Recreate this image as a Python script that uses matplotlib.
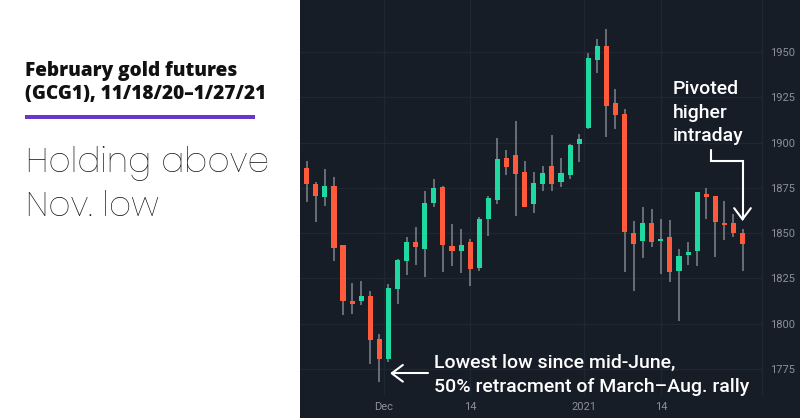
import matplotlib
matplotlib.use("Agg")
import matplotlib.pyplot as plt
from matplotlib.patches import Rectangle, FancyArrowPatch
from matplotlib.path import Path
from matplotlib.transforms import Affine2D

# ---------------- data ----------------
dates = ["2020-11-18", "2020-11-19", "2020-11-20", "2020-11-23", "2020-11-24", "2020-11-25",
         "2020-11-26", "2020-11-27", "2020-11-30",
         "2020-12-01", "2020-12-02", "2020-12-03", "2020-12-04", "2020-12-07", "2020-12-08",
         "2020-12-09", "2020-12-10", "2020-12-11", "2020-12-14", "2020-12-15", "2020-12-16",
         "2020-12-17", "2020-12-18", "2020-12-21", "2020-12-22", "2020-12-23", "2020-12-24",
         "2020-12-28", "2020-12-29", "2020-12-30", "2020-12-31",
         "2021-01-04", "2021-01-05", "2021-01-06", "2021-01-07", "2021-01-08", "2021-01-11",
         "2021-01-12", "2021-01-13", "2021-01-14", "2021-01-15", "2021-01-18", "2021-01-19",
         "2021-01-20", "2021-01-21", "2021-01-22", "2021-01-25", "2021-01-26", "2021-01-27"]

opens = [1886.1, 1877.2, 1870.1, 1876.1, 1843.2, 1812.3, 1812.3, 1815.2, 1791.4, 1780.5,
         1819.2, 1834.4, 1845.2, 1841.2, 1866.4, 1875.6, 1843.0, 1840.2, 1845.0, 1830.7,
         1857.9, 1868.2, 1891.3, 1892.9, 1883.5, 1865.9, 1877.2, 1887.2, 1878.2, 1882.0,
         1899.3, 1908.2, 1945.6, 1953.2, 1921.7, 1915.6, 1850.2, 1845.4, 1855.4, 1845.4,
         1847.8, 1829.2, 1838.0, 1840.2, 1871.4, 1870.3, 1855.7, 1855.4, 1850.0]
highs = [1889.8, 1878.2, 1885.4, 1881.1, 1843.5, 1822.4, 1823.5, 1818.0, 1794.2, 1821.8,
         1835.8, 1848.0, 1853.1, 1873.4, 1879.8, 1876.1, 1854.8, 1852.2, 1846.5, 1859.0,
         1870.4, 1902.3, 1896.0, 1912.1, 1889.6, 1883.9, 1887.0, 1904.3, 1891.3, 1899.2,
         1904.9, 1949.3, 1957.2, 1962.6, 1929.4, 1918.7, 1856.5, 1864.2, 1863.3, 1857.7,
         1857.0, 1841.2, 1845.0, 1872.5, 1875.0, 1870.6, 1867.7, 1860.7, 1852.0]
lows = [1867.1, 1856.2, 1865.1, 1834.7, 1804.5, 1805.1, 1810.2, 1777.8, 1767.8, 1778.9,
        1810.6, 1827.0, 1832.2, 1825.5, 1864.2, 1828.6, 1831.8, 1827.7, 1820.9, 1829.2,
        1848.5, 1866.0, 1882.0, 1859.6, 1864.2, 1861.2, 1873.4, 1873.4, 1875.6, 1879.8,
        1889.4, 1907.6, 1938.6, 1903.0, 1907.6, 1828.3, 1817.8, 1836.4, 1842.1, 1827.2,
        1823.1, 1801.5, 1832.3, 1831.8, 1857.9, 1836.9, 1846.3, 1847.6, 1829.2]
closes = [1877.1, 1870.6, 1876.1, 1841.5, 1812.3, 1810.8, 1815.2, 1790.9, 1780.5, 1819.8,
          1834.9, 1845.2, 1842.1, 1866.7, 1875.0, 1843.2, 1840.2, 1843.5, 1830.3, 1857.7,
          1869.2, 1890.7, 1886.6, 1882.8, 1864.5, 1877.5, 1883.0, 1877.2, 1883.0, 1898.6,
          1901.8, 1946.9, 1953.5, 1920.3, 1915.0, 1850.4, 1843.8, 1855.4, 1844.9, 1846.9,
          1828.3, 1837.3, 1839.3, 1872.5, 1870.1, 1855.9, 1854.4, 1849.8, 1844.1]

y_ticks = [1775, 1800, 1825, 1850, 1875, 1900, 1925, 1950]
x_tick_labels = ["Dec", "14", "2021", "14"]
x_tick_dates = ["2020-12-01", "2020-12-14", "2021-01-04", "2021-01-14"]
x_tick_month_start = [True, False, True, False]

title_lines = ["February gold futures", "(GCG1), 11/18/20\u20131/27/21"]
headline_lines = ["Holding above", "Nov. low"]
note_low = ["Lowest low since mid-June,", "50% retracment of March\u2013Aug. rally"]
note_pivot = ["Pivoted", "higher", "intraday"]

# ---------------- style ----------------
W, H = 800, 418
BG = "#161d27"
GRID = "#1f2733"
UP = "#1fd9a1"
DOWN = "#ff5a3a"
WICK = "#7f858e"
TICK = "#8b9099"
FONT = ["Roboto", "DejaVu Sans"]
FONT_WIDE = ["Open Sans", "DejaVu Sans"]
FONT_HEAD = ["Poppins", "Open Sans", "DejaVu Sans"]

fig = plt.figure(figsize=(W / 100, H / 100), dpi=100)
fig.patch.set_facecolor("white")


def fx(px):
    return px / W


def fy(py):
    return 1 - py / H


fig.patches.append(Rectangle((fx(300), 0), fx(500), 1, transform=fig.transFigure,
                             facecolor=BG, edgecolor="none", zorder=-5))

ax_l, ax_r, ax_t, ax_b = 300, 762, 0, 395
ax = fig.add_axes([fx(ax_l), fy(ax_b), fx(ax_r - ax_l), (ax_b - ax_t) / H])
ax.set_facecolor(BG)

n = len(dates)
xs = list(range(n))
for i in xs:
    o, h, l, c = opens[i], highs[i], lows[i], closes[i]
    col = UP if c >= o else DOWN
    ax.vlines(i, l, h, color=WICK, lw=1.1, zorder=2)
    ax.bar(i, max(abs(c - o), 1.2), bottom=min(o, c), width=0.56, color=col,
           edgecolor="none", zorder=3)

ax.set_xlim(-0.74, 50.14)
ax.set_ylim(1760.5, 1978.75)

xt = []
for d, ms in zip(x_tick_dates, x_tick_month_start):
    k = dates.index(d)
    xt.append(k - 0.5 if ms else k)
ax.set_xticks(xt)
ax.set_xticklabels(x_tick_labels)
ax.set_yticks(y_ticks)
ax.set_yticklabels([str(v) for v in y_ticks])
ax.yaxis.tick_right()
ax.tick_params(axis="both", length=0, colors=TICK, labelsize=8)
ax.tick_params(axis="y", pad=6)
ax.tick_params(axis="x", pad=5)
for lab in ax.get_xticklabels() + ax.get_yticklabels():
    lab.set_family(FONT)
ax.grid(True, color=GRID, lw=0.9, zorder=0)
ax.set_axisbelow(True)
for s in ["top", "left", "bottom"]:
    ax.spines[s].set_visible(False)
ax.spines["right"].set_color(GRID)
ax.spines["right"].set_linewidth(0.9)

# ---------------- left panel text ----------------
for txt, base in zip(title_lines, [76, 99.5]):
    fig.text(fx(25), fy(base), txt, fontsize=13.7, fontweight=800, color="#111111",
             family=FONT_WIDE, va="baseline", ha="left")
fig.patches.append(Rectangle((fx(25), fy(119)), fx(230), 4 / H, transform=fig.transFigure,
                             facecolor="#6a36c8", edgecolor="none"))
for txt, base in zip(headline_lines, [172, 216]):
    fig.text(fx(26), fy(base), txt, fontsize=24.8, fontweight=200, color="#111111",
             family=FONT_HEAD, va="baseline", ha="left")

# ---------------- annotations ----------------
for txt, base in zip(note_low, [368.3, 391.7]):
    fig.text(fx(434), fy(base), txt, fontsize=14, fontweight="medium", color="white",
             family=FONT, va="baseline", ha="left", zorder=10)
for txt, base in zip(note_pivot, [94, 117.5, 141]):
    fig.text(fx(673), fy(base), txt, fontsize=14, fontweight="medium", color="white",
             family=FONT, va="baseline", ha="left", zorder=10)

pix = Affine2D().scale(1 / W, -1 / H).translate(0, 1) + fig.transFigure
a1 = FancyArrowPatch(path=Path([(428, 373.3), (390, 373.3)]),
                     arrowstyle="->,head_length=0.8,head_width=0.6",
                     mutation_scale=10, color="white", lw=1.5, transform=pix, zorder=10)
fig.patches.append(a1)
a2 = FancyArrowPatch(path=Path([(710.7, 149.5), (710.7, 160.7), (742.5, 160.7), (742.5, 221)],
                               [Path.MOVETO, Path.LINETO, Path.LINETO, Path.LINETO]),
                     arrowstyle="->,head_length=0.8,head_width=0.6",
                     mutation_scale=10, color="white", lw=1.5, transform=pix, zorder=10,
                     joinstyle="miter")
fig.patches.append(a2)

fig.savefig("out.png", dpi=100, facecolor="white")
